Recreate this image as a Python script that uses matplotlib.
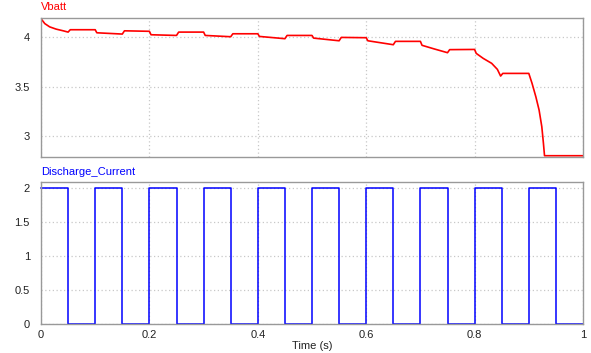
import matplotlib
matplotlib.use("Agg")
import matplotlib.pyplot as plt

# ---- data ----
t_volt = [0, 0.007, 0.016, 0.028, 0.041, 0.05, 0.054, 0.1, 0.103, 0.15, 0.154,
          0.2, 0.203, 0.25, 0.254, 0.3, 0.303, 0.35, 0.354, 0.4, 0.403, 0.45,
          0.454, 0.5, 0.503, 0.55, 0.554, 0.6, 0.603, 0.65, 0.654, 0.7, 0.703,
          0.725, 0.75, 0.754, 0.8, 0.803, 0.816, 0.8315, 0.842, 0.848, 0.852,
          0.9, 0.906, 0.913, 0.919, 0.924, 0.927, 0.929, 1.0]
vbatt = [4.19, 4.14, 4.107, 4.084, 4.067, 4.054, 4.078, 4.078, 4.047, 4.034, 4.067,
         4.062, 4.027, 4.02, 4.054, 4.054, 4.02, 4.007, 4.037, 4.037, 4.01, 3.987,
         4.02, 4.02, 3.993, 3.966, 4.0, 3.997, 3.966, 3.926, 3.96, 3.96, 3.92,
         3.884, 3.845, 3.876, 3.878, 3.838, 3.787, 3.737, 3.676, 3.608, 3.635,
         3.635, 3.534, 3.398, 3.263, 3.094, 2.925, 2.80, 2.80]

t_current = [0, 0.05, 0.1, 0.15, 0.2, 0.25, 0.3, 0.35, 0.4, 0.45, 0.5,
             0.55, 0.6, 0.65, 0.7, 0.75, 0.8, 0.85, 0.9, 0.95, 1.0]
current = [2, 0, 2, 0, 2, 0, 2, 0, 2, 0, 2,
           0, 2, 0, 2, 0, 2, 0, 2, 0, 0]

x_ticks = [0, 0.2, 0.4, 0.6, 0.8, 1]
x_ticklabels = ["0", "0.2", "0.4", "0.6", "0.8", "1"]
v_ticks = [3, 3.5, 4]
v_ticklabels = ["3", "3.5", "4"]
i_ticks = [0, 0.5, 1, 1.5, 2]
i_ticklabels = ["0", "0.5", "1", "1.5", "2"]

plt.rcParams['font.family'] = ['Liberation Sans', 'DejaVu Sans']

W, H = 591, 353
fig = plt.figure(figsize=(W / 100, H / 100), dpi=100)

def pos(l, t, r, b):
    return [l / W, 1 - b / H, (r - l) / W, (b - t) / H]

ax1 = fig.add_axes(pos(41, 17.7, 583, 157))
ax2 = fig.add_axes(pos(41, 181.7, 583, 324))

FS = 8
grid_kw = dict(color="#c8c8c8", linestyle=(0, (1, 2)), linewidth=0.9)
for ax in (ax1, ax2):
    for s in ax.spines.values():
        s.set_color("#999999")
        s.set_linewidth(1.0)
    ax.set_xlim(0, 1)
    ax.set_xticks(x_ticks)
    ax.grid(True, **grid_kw)
    ax.set_axisbelow(True)
    ax.tick_params(length=0, labelsize=FS, colors="#222222", pad=8)

ax1.plot(t_volt, vbatt, color="#ff0000", linewidth=1.2)
ax1.set_ylim(2.787, 4.2)
ax1.set_yticks(v_ticks)
ax1.set_yticklabels(v_ticklabels)
ax1.tick_params(axis="x", labelbottom=False)

ax2.step(t_current, current, where="post", color="#0000ff", linewidth=1.1, clip_on=False)
ax2.set_ylim(0, 2.1)
ax2.set_yticks(i_ticks)
ax2.set_yticklabels(i_ticklabels)
ax2.set_xticklabels(x_ticklabels)
ax2.tick_params(axis="x", pad=4)
ax2.set_xlabel("Time (s)", fontsize=FS, color="#222222", labelpad=1)

fig.text(41 / W, 1 - 7.5 / H, "Vbatt", color="#ff0000", fontsize=FS, va="center", ha="left")
fig.text(41 / W, 1 - 172 / H, "Discharge_Current", color="#0000ff", fontsize=FS, va="center", ha="left")

fig.savefig("out.png", dpi=100)
